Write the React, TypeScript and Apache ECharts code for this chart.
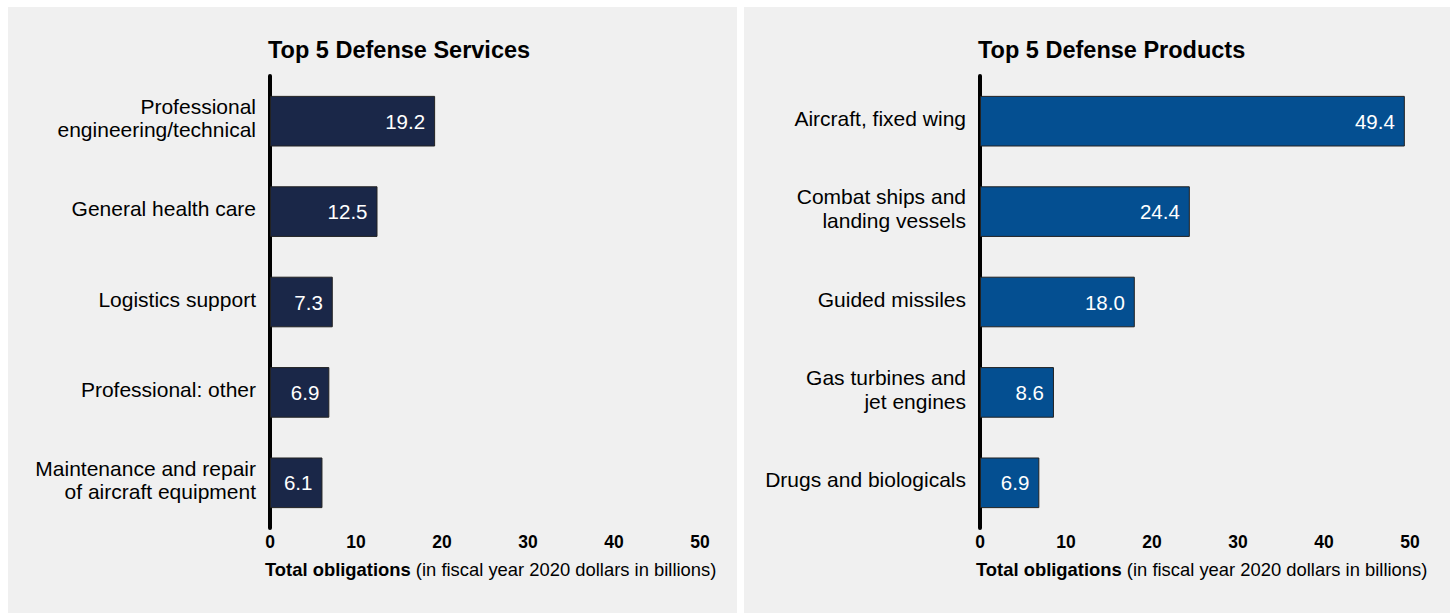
import React, { useEffect, useRef } from "react";
import * as echarts from "echarts";

const servicesCategories = [
  "Professional\nengineering/technical",
  "General health care",
  "Logistics support",
  "Professional: other",
  "Maintenance and repair\nof aircraft equipment",
];
const servicesValues = [19.2, 12.5, 7.3, 6.9, 6.1];

const productsCategories = [
  "Aircraft, fixed wing",
  "Combat ships and\nlanding vessels",
  "Guided missiles",
  "Gas turbines and\njet engines",
  "Drugs and biologicals",
];
const productsValues = [49.4, 24.4, 18.0, 8.6, 6.9];

const xTicks = [0, 10, 20, 30, 40, 50];
const titles = ["Top 5 Defense Services", "Top 5 Defense Products"];
const axisNameBold = "Total obligations";
const axisNameRest = " (in fiscal year 2020 dollars in billions)";

const FONT = "'Liberation Sans', Arial, Helvetica, sans-serif";

export default function App() {
  const ref = useRef<HTMLDivElement>(null);
  useEffect(() => {
    document.body.style.margin = "0";
    const chart = echarts.init(ref.current!, null, { renderer: "svg" });
    const grids = [
      { left: 270, top: 76, width: 430, height: 452 },
      { left: 980, top: 76, width: 430, height: 452 },
    ];
    const colors = ["#1a2748", "#044f91"];
    const cats = [servicesCategories, productsCategories];
    const vals = [servicesValues, productsValues];
    const option: any = {
      animation: false,
      backgroundColor: "#ffffff",
      textStyle: { fontFamily: FONT },
      grid: grids,
      xAxis: grids.map((_, i) => ({
        type: "value",
        gridIndex: i,
        min: xTicks[0],
        max: xTicks[xTicks.length - 1],
        interval: 10,
        axisLine: { show: false },
        axisTick: { show: false },
        splitLine: { show: false },
        axisLabel: {
          color: "#000",
          fontWeight: "bold",
          fontSize: 17.5,
          fontFamily: FONT,
          margin: 5,
        },
      })),
      yAxis: grids.map((_, i) => ({
        type: "category",
        gridIndex: i,
        inverse: true,
        data: cats[i],
        axisLine: { show: true, lineStyle: { color: "#000", width: 4 } },
        axisTick: { show: false },
        axisLabel: {
          color: "#000",
          fontSize: 21,
          fontFamily: FONT,
          margin: 14,
          align: "right",
          formatter: (v: string) =>
            v
              .split("\n")
              .map((l) => `{a|${l}}`)
              .join("\n") + "\n{s| }",
          rich: {
            a: { fontSize: 21, lineHeight: 23.5, fontFamily: FONT, color: "#000", align: "right" },
            s: { fontSize: 1, lineHeight: 6, align: "right" },
          },
        },
      })),
      series: grids.map((_, i) => ({
        type: "bar",
        xAxisIndex: i,
        yAxisIndex: i,
        data: vals[i],
        barWidth: "56%",
        itemStyle: { color: colors[i], borderColor: "#222", borderWidth: 1 },
        label: {
          show: true,
          position: "insideRight",
          distance: 10,
          color: "#fff",
          fontSize: 20.5,
          fontFamily: FONT,
          formatter: (p: any) => p.value.toFixed(1),
        },
      })),
      graphic: [
        {
          type: "rect",
          z: -10,
          shape: { x: 8, y: 7, width: 729, height: 606 },
          style: { fill: "#f0f0f0" },
          silent: true,
        },
        {
          type: "rect",
          z: -10,
          shape: { x: 744, y: 7, width: 706, height: 606 },
          style: { fill: "#f0f0f0" },
          silent: true,
        },
        ...titles.map((t, i) => ({
          type: "text",
          x: i === 0 ? 268 : 978,
          y: 49.5,
          style: {
            text: t,
            fill: "#000",
            font: `bold 23.5px ${FONT}`,
            textAlign: "left",
            textVerticalAlign: "middle",
          },
        })),
        ...[265, 976].map((x) => ({
          type: "text",
          x,
          y: 569,
          style: {
            text: `{b|${axisNameBold}}{n|${axisNameRest}}`,
            fill: "#000",
            fontSize: 18.4,
            fontFamily: FONT,
            textAlign: "left",
            textVerticalAlign: "middle",
            rich: {
              b: { fontWeight: "bold", fontSize: 18.4, fontFamily: FONT, fill: "#000" },
              n: { fontSize: 18.4, fontFamily: FONT, fill: "#000" },
            },
          },
        })),
      ],
    };
    chart.setOption(option);
    return () => chart.dispose();
  }, []);
  return <div ref={ref} style={{ width: 1450, height: 613 }} />;
}
